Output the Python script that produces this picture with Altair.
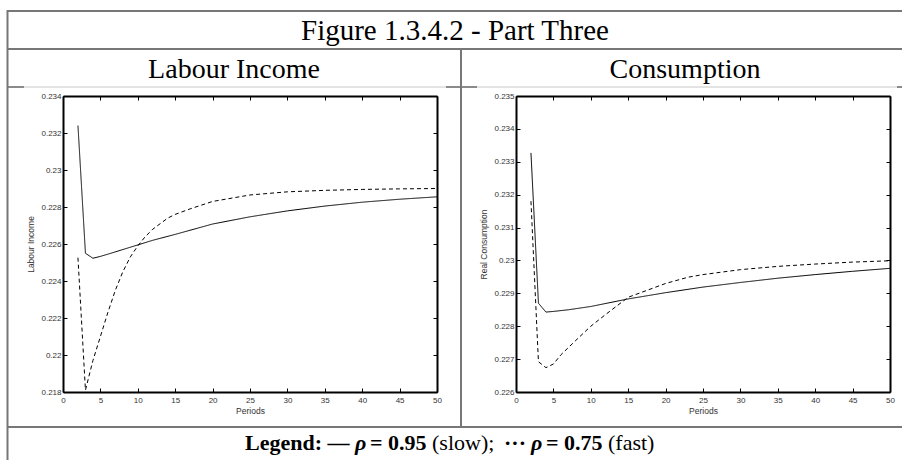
import altair as alt
import pandas as pd

# ---- Labour income paths (rho = 0.95 slow, rho = 0.75 fast) ----
labour_slow_periods = [2, 3, 4, 5, 6, 8, 10, 12, 15, 20, 25, 30, 35, 40, 45, 50]
labour_slow_values = [0.2324, 0.2255, 0.22523, 0.22533, 0.22545, 0.2257, 0.22595,
                      0.2262, 0.22652, 0.22708, 0.22747, 0.22779, 0.22805, 0.22826,
                      0.22842, 0.22855]
labour_fast_periods = [2, 3, 4, 5, 6, 7, 8, 9, 10, 11, 12, 13, 14, 15, 17, 20,
                       25, 30, 35, 40, 45, 50]
labour_fast_values = [0.22526, 0.2181, 0.2197, 0.2210, 0.2223, 0.2235, 0.2245,
                      0.2253, 0.2259, 0.2264, 0.2268, 0.2271, 0.2274, 0.2276,
                      0.2279, 0.2283, 0.22865, 0.22882, 0.2289, 0.22895, 0.22898,
                      0.229]

# ---- Real consumption paths ----
cons_slow_periods = [2, 3, 4, 5, 7, 10, 15, 20, 25, 30, 35, 40, 45, 50]
cons_slow_values = [0.23327, 0.2287, 0.22843, 0.22845, 0.2285, 0.2286, 0.22883,
                    0.22902, 0.22919, 0.22933, 0.22946, 0.22957, 0.22967, 0.22976]
cons_fast_periods = [2, 3, 4, 5, 6, 7, 8, 10, 12, 15, 20, 23, 25, 30, 35, 40, 45, 50]
cons_fast_values = [0.2318, 0.22692, 0.22674, 0.22685, 0.22713, 0.22735, 0.22757,
                    0.228, 0.22836, 0.22888, 0.2293, 0.22949, 0.22957, 0.22972,
                    0.22982, 0.22989, 0.22995, 0.22999]

x_ticks = [0, 5, 10, 15, 20, 25, 30, 35, 40, 45, 50]
labour_y_ticks = [0.218, 0.22, 0.222, 0.224, 0.226, 0.228, 0.23, 0.232, 0.234]
cons_y_ticks = [0.226, 0.227, 0.228, 0.229, 0.23, 0.231, 0.232, 0.233, 0.234, 0.235]

W, H = 902, 460
PLOT_TOP, PLOT_BOTTOM = 96, 392
LABEL_FONT = "Liberation Sans"
SERIF = "Liberation Serif"


def frame(periods_a, values_a, periods_b, values_b):
    return pd.DataFrame({
        "period": list(periods_a) + list(periods_b),
        "value": list(values_a) + list(values_b),
        "rho": ["0.95"] * len(periods_a) + ["0.75"] * len(periods_b),
    })


def panel(df, x0, x1, ydom, yticks, ytitle):
    xs = alt.Scale(domain=[0, 50], range=[x0, x1], nice=False, zero=False)
    ys = alt.Scale(domain=ydom, range=[PLOT_BOTTOM, PLOT_TOP], nice=False, zero=False)
    common = dict(grid=False, labelFont=LABEL_FONT, labelFontSize=8, labelColor="#333",
                  titleFont=LABEL_FONT, titleFontSize=8.5, titleFontWeight="normal",
                  titleColor="#333", labelOverlap=False, labelFlush=False,
                  domainColor="black", domainWidth=2, tickColor="black", tickWidth=1)
    dash = alt.StrokeDash("rho:N", legend=None,
                          scale=alt.Scale(domain=["0.95", "0.75"], range=[[1, 0], [4, 3]]))

    # curves, tick labels, left and bottom frame
    lines = alt.Chart(df).mark_line(color="black", strokeWidth=1).encode(
        x=alt.X("period:Q", scale=xs, axis=alt.Axis(
            orient="bottom", offset=-(H - PLOT_BOTTOM), values=x_ticks, ticks=False,
            labelPadding=4, title="Periods", titlePadding=2, **common)),
        y=alt.Y("value:Q", scale=ys, axis=alt.Axis(
            orient="left", offset=-x0, values=yticks, format="~g", ticks=False,
            labelPadding=2, title=ytitle, titlePadding=5, **common)),
        strokeDash=dash,
    )
    # inward ticks on the bottom and left edges
    inner_a = alt.Chart(df).mark_line(opacity=0).encode(
        x=alt.X("period:Q", scale=xs, axis=alt.Axis(
            orient="top", offset=-PLOT_BOTTOM, values=x_ticks, labels=False,
            domain=False, tickSize=4, title="", **common)),
        y=alt.Y("value:Q", scale=ys, axis=alt.Axis(
            orient="right", offset=x0 - W, values=yticks, labels=False,
            domain=False, tickSize=4, title="", **common)),
    )
    # top and right frame with inward ticks
    inner_b = alt.Chart(df).mark_line(opacity=0).encode(
        x=alt.X("period:Q", scale=xs, axis=alt.Axis(
            orient="bottom", offset=PLOT_TOP - H, values=x_ticks, labels=False,
            tickSize=4, title="", **common)),
        y=alt.Y("value:Q", scale=ys, axis=alt.Axis(
            orient="left", offset=-x1, values=yticks, labels=False,
            tickSize=4, title="", **common)),
    )
    return [lines, inner_a, inner_b]


labour = frame(labour_slow_periods, labour_slow_values, labour_fast_periods, labour_fast_values)
cons = frame(cons_slow_periods, cons_slow_values, cons_fast_periods, cons_fast_values)

layers = []
layers += panel(labour, 63, 437, [0.218, 0.234], labour_y_ticks, "Labour Income")
layers += panel(cons, 516, 890, [0.226, 0.235], cons_y_ticks, "Real Consumption")


def hrule(x0, x1, y, color="#777", width=2):
    return alt.Chart().mark_rule(color=color, strokeWidth=width).encode(
        x=alt.value(x0), x2=alt.value(x1), y=alt.value(y))


def vrule(x, y0, y1, color="#777", width=2):
    return alt.Chart().mark_rule(color=color, strokeWidth=width).encode(
        x=alt.value(x), y=alt.value(y0), y2=alt.value(y1))


def label(txt, x, y, size=28, weight="normal", style="normal", align="center"):
    return alt.Chart().mark_text(
        text=txt, font=SERIF, fontSize=size, fontWeight=weight, fontStyle=style,
        align=align, baseline="alphabetic", color="black",
    ).encode(x=alt.value(x), y=alt.value(y))


table = [
    hrule(7, W, 11),
    hrule(7, W, 49),
    hrule(7, W, 87, color="#c8c8c8", width=1),
    hrule(7, 24, 87, color="#333", width=1),
    hrule(446, 477, 87, color="#333", width=1),
    hrule(897, W, 87, color="#333", width=1),
    hrule(7, W, 427),
    vrule(7.5, 10, H),
    vrule(461, 49, 427),
]

texts = [
    label("Figure 1.3.4.2 - Part Three", 455, 40, size=29),
    label("Labour Income", 234, 78),
    label("Consumption", 685, 78),
    label("Legend: \u2014", 245, 450, size=22, weight="bold", align="left"),
    label("\u03c1", 355, 450, size=22, weight="bold", style="italic", align="left"),
    label("= 0.95", 370, 450, size=22, weight="bold", align="left"),
    label("(slow);", 432, 450, size=22, align="left"),
    label("\u00b7\u00b7\u00b7", 504, 450, size=22, weight="bold", align="left"),
    label("\u03c1", 531, 450, size=22, weight="bold", style="italic", align="left"),
    label("= 0.75", 546, 450, size=22, weight="bold", align="left"),
    label("(fast)", 608, 450, size=22, align="left"),
]

chart = alt.layer(*layers, *table, *texts).resolve_scale(
    x="independent", y="independent"
).properties(
    width=W, height=H, padding=0,
    autosize=alt.AutoSizeParams(type="none"),
    background="white",
).configure_view(strokeWidth=0)

chart.save("out.html", embed_options={"renderer": "svg", "actions": False})
